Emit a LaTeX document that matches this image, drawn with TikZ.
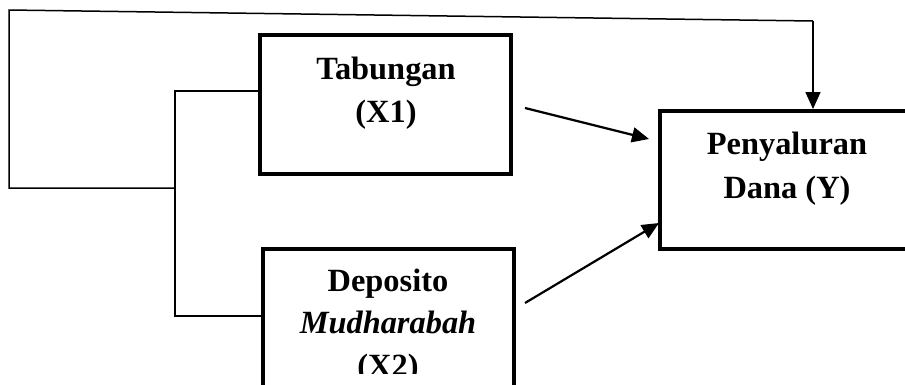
\documentclass[tikz,border=0pt]{standalone}
\usepackage{fontspec}
\setmainfont{Liberation Serif}
\usetikzlibrary{arrows.meta}
\begin{document}
\begin{tikzpicture}[x=1pt,y=-1pt,
  boxstyle/.style={draw,line width=4pt,inner sep=0pt},
  lbl/.style={anchor=base,inner sep=0pt,font=\fontsize{32.4}{38}\selectfont\bfseries},
  thin/.style={line width=1.5pt},
  arr/.style={line width=2.2pt,-{Triangle[length=17pt,width=15pt]}}]
\useasboundingbox (0,0) rectangle (905,384);
\clip (0,0) rectangle (905,384);
% boxes
\node[boxstyle,minimum width=251pt,minimum height=139pt] (x1) at (385.5,104.5) {};
\node[boxstyle,minimum width=270pt,minimum height=138pt] (y) at (795,180) {};
\node[boxstyle,minimum width=251pt,minimum height=170pt] (x2) at (388.5,334) {};
% texts
\node[lbl] (t1a) at (386,79) {Tabungan};
\node[lbl] (t1b) at (386,122) {(X1)};
\node[lbl] (tya) at (787,154) {Penyaluran};
\node[lbl] (tyb) at (787,198) {Dana (Y)};
\node[lbl] (t2a) at (388,291) {Deposito};
\node[lbl,font=\fontsize{32.4}{38}\selectfont\bfseries\itshape] (t2b) at (388,333) {Mudharabah};
\begin{scope}
\clip (262,340) rectangle (514,373);
\node[lbl] (t2c) at (388,376) {(X2)};
\end{scope}
% coordinates
\coordinate (tl) at (9,10);
\coordinate (tr) at (813,21);
\coordinate (bl) at (9,188);
\coordinate (bm) at (175,188);
\coordinate (bt) at (175,91);
\coordinate (bb) at (175,316);
\coordinate (a1s) at (525,108);
\coordinate (a1e) at (649,139);
\coordinate (a2s) at (525,303);
\coordinate (a2e) at (659,223);
% connectors
\draw[thin] (bm) -- (bl) -- (tl) -- (tr);
\draw[arr,line width=1.6pt] (tr) -- (tr |- y.north);
\draw[thin] (x1.west |- bt) -- (bt) -- (bb) -- (x2.west |- bb);
\draw[arr] (a1s) -- (a1e);
\draw[arr] (a2s) -- (a2e);
\end{tikzpicture}
\end{document}
